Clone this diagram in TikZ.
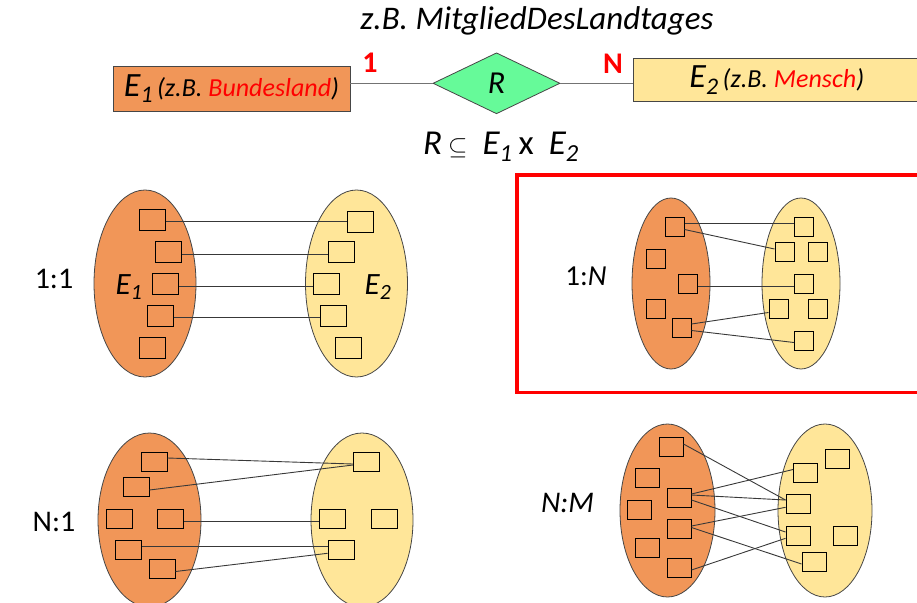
\documentclass[tikz,border=0pt]{standalone}
\usepackage{fontspec}
\setmainfont{Carlito}
\usetikzlibrary{shapes.geometric,calc}
\definecolor{eorange}{RGB}{241,150,88}
\definecolor{eyellow}{RGB}{255,230,153}
\definecolor{rgreen}{RGB}{102,250,153}
\definecolor{edgegray}{RGB}{70,70,70}
\newcommand\fs[1]{\fontsize{#1}{#1}\selectfont}
\begin{document}
\begin{tikzpicture}[x=1pt,y=-1pt,
  ellO/.style={ellipse,draw=edgegray,line width=0.8pt,fill=eorange,inner sep=0pt},
  ellY/.style={ellipse,draw=edgegray,line width=0.8pt,fill=eyellow,inner sep=0pt},
  sq/.style={rectangle,draw=black,line width=1pt,inner sep=0pt},
  sqA/.style={sq,minimum width=26pt,minimum height=21pt},
  sqB/.style={sq,minimum width=19pt,minimum height=19pt},
  sqC/.style={sq,minimum width=26pt,minimum height=19pt},
  sqD/.style={sq,minimum width=24pt,minimum height=19pt},
  lk/.style={draw=black!78,line width=0.9pt},
  conn/.style={draw=black!55,line width=1pt},
  lbl/.style={inner sep=0pt,font=\fs{30}},
  card/.style={inner sep=0pt,text=red,font=\fs{30}\bfseries},
]
\useasboundingbox (0,0) rectangle (917,602);

% ---------- top: ER diagram ----------
\node[anchor=base,inner sep=0pt,font=\fs{33}\itshape] (title) at (537,30) {z.B. MitgliedDesLandtages};
\node[rectangle,draw=edgegray,line width=0.9pt,fill=eorange,minimum width=237pt,minimum height=45pt,inner sep=0pt] (E1box) at (231.5,88.5)
  {\itshape{\fs{34}E\textsubscript{1}}\hspace{4pt}{\fs{26}(z.B. \textcolor{red}{Bundesland})}};
\node[diamond,draw=edgegray,line width=0.8pt,fill=rgreen,minimum width=127pt,minimum height=61pt,inner sep=0pt] (R) at (496.5,83.3) {\fs{32}\itshape R};
\node[rectangle,draw=edgegray,line width=0.9pt,fill=eyellow,minimum width=287pt,minimum height=43.4pt,inner sep=0pt] (E2box) at (776.8,80)
  {\itshape{\fs{34}E\textsubscript{2}}\hspace{4pt}{\fs{26}(z.B. \textcolor{red}{Mensch})}};
\draw[conn] (E1box.east |- R.west) -- (R.west);
\draw[conn] (R.east) -- (R.east -| E2box.west);
\node[card] (one) at (370,63) {1};
\node[card] (many) at (613,64) {N};
\node[anchor=base,inner sep=0pt,font=\fs{35}\itshape] (formula) at (501,154)
  {R\hspace{6pt}$\subseteq$\hspace{15pt}E\textsubscript{1}\hspace{6pt}{\upshape x}\hspace{15pt}E\textsubscript{2}};

% ---------- 1:1 ----------
\node[ellO,minimum width=102pt,minimum height=187pt] (A1) at (145,283.5) {};
\node[ellY,minimum width=102pt,minimum height=187pt] (A2) at (356.5,283.5) {};
\node[lbl] (lab11) at (54,279) {1:1};
\node[inner sep=0pt,font=\fs{31}\itshape] (lE1) at (129,287) {E\textsubscript{1}};
\node[inner sep=0pt,font=\fs{31}\itshape] (lE2) at (378,287) {E\textsubscript{2}};
\node[sqA] (a1) at (152,220) {};
\node[sqA] (a2) at (168,251.5) {};
\node[sqA] (a3) at (165.5,284) {};
\node[sqA] (a4) at (160,316) {};
\node[sqA] (a5) at (152,347.5) {};
\node[sqA] (b1) at (360.5,222) {};
\node[sqA] (b2) at (341,251.5) {};
\node[sqA] (b3) at (326.5,284) {};
\node[sqA] (b4) at (333.5,316) {};
\node[sqA] (b5) at (348.5,347.5) {};
\draw[lk] ($(a1.east)+(0,1.7)$) -- ($(b1.west)+(0,-0.3)$);
\draw[lk] ($(a2.east)+(0,2.6)$) -- ($(b2.west)+(0,2.6)$);
\draw[lk] ($(a3.east)+(0,2)$) -- ($(b3.west)+(0,2)$);
\draw[lk] ($(a4.east)+(0,1.9)$) -- ($(b4.west)+(0,1.9)$);

% ---------- 1:N ----------
\draw[red,line width=3.5pt] (517,175) rectangle (921,392.3);
\node[ellO,minimum width=78pt,minimum height=171pt] (C1) at (671,283.5) {};
\node[ellY,minimum width=78pt,minimum height=171pt] (C2) at (801,283.5) {};
\node[lbl,font=\fs{29}] (lab1n) at (586,276) {1:\textit{N}};
\node[sqB] (c1) at (674.5,226.5) {};
\node[sqB] (c2) at (655.5,258.5) {};
\node[sqB] (c3) at (688,283.5) {};
\node[sqB] (c4) at (655.5,308.5) {};
\node[sqB] (c5) at (681.5,327.5) {};
\node[sqB] (d1) at (804,226.5) {};
\node[sqB] (d2) at (784.5,251.5) {};
\node[sqB] (d3) at (818,251.5) {};
\node[sqB] (d4) at (804,283.5) {};
\node[sqB] (d5) at (778.5,308.5) {};
\node[sqB] (d6) at (818,308.5) {};
\node[sqB] (d7) at (804,340.5) {};
\draw[lk] ($(c1.east)+(0,-3)$) -- ($(d1.west)+(0,-3)$);
\draw[lk] ($(c1.east)+(0,3)$) -- ($(d2.west)+(0,-2.5)$);
\draw[lk] ($(c3.east)+(0,3)$) -- ($(d4.west)+(0,3)$);
\draw[lk] ($(c5.east)+(0,-3.5)$) -- ($(d5.west)+(0,4)$);
\draw[lk] ($(c5.east)+(0,3)$) -- ($(d7.west)+(0,2)$);

% ---------- N:1 ----------
\node[ellO,minimum width=103pt,minimum height=174pt] (F1) at (149.5,520) {};
\node[ellY,minimum width=102pt,minimum height=174pt] (F2) at (362,520) {};
\node[lbl] (labn1) at (54,522) {N:1};
\node[sqC] (e1) at (154,462) {};
\node[sqC] (e2) at (136,487) {};
\node[sqC] (e3) at (119.5,518.5) {};
\node[sqC] (e4) at (170.5,518.5) {};
\node[sqC] (e5) at (128.5,550) {};
\node[sqC] (e6) at (162,568.5) {};
\node[sqC] (f1) at (366.5,462) {};
\node[sqC] (f2) at (332,518.5) {};
\node[sqC] (f3) at (384.5,518.5) {};
\node[sqC] (f4) at (341,550) {};
\draw[lk] ($(e1.east)+(0,-4)$) -- ($(f1.west)+(0,2)$);
\draw[lk] ($(e2.east)+(0,3)$) -- ($(f1.west)+(0,3)$);
\draw[lk] ($(e4.east)+(0,2.5)$) -- ($(f2.west)+(0,2.5)$);
\draw[lk] ($(e5.east)+(0,-3.3)$) -- ($(f4.west)+(0,-3.3)$);
\draw[lk] ($(e6.east)+(0,3)$) -- ($(f4.west)+(0,3.3)$);

% ---------- N:M ----------
\node[ellO,minimum width=95pt,minimum height=173pt] (G1) at (667.5,510.5) {};
\node[ellY,minimum width=94pt,minimum height=173pt] (G2) at (825,510.5) {};
\node[lbl,font=\fs{30}\itshape] (labnm) at (567.5,502.5) {N:M};
\node[sqD] (g1) at (671,446.5) {};
\node[sqD] (g2) at (647,478) {};
\node[sqD] (g3) at (679,497.5) {};
\node[sqD] (g4) at (639.5,509.5) {};
\node[sqD] (g5) at (679,528.5) {};
\node[sqD] (g6) at (647,548) {};
\node[sqD] (g7) at (679,567.5) {};
\node[sqD] (h1) at (837.5,458.5) {};
\node[sqD] (h2) at (805.5,472.5) {};
\node[sqD] (h3) at (798,504) {};
\node[sqD] (h4) at (798,536) {};
\node[sqD] (h5) at (845,536) {};
\node[sqD] (h6) at (814,561.5) {};
\draw[lk] ($(g1.east)+(0,-2.5)$) -- ($(h3.west)+(0,-4)$);
\draw[lk] ($(g3.east)+(0,-3.5)$) -- ($(h2.west)+(0,-3)$);
\draw[lk] ($(g3.east)+(0,-2.5)$) -- ($(h3.west)+(0,-4)$);
\draw[lk] ($(g3.east)+(0,2.5)$) -- ($(h4.west)+(0,-4)$);
\draw[lk] ($(g5.east)+(0,-2.5)$) -- ($(h3.west)+(0,3.3)$);
\draw[lk] ($(g5.east)+(0,-1)$) -- ($(h6.west)+(0,2.5)$);
\draw[lk] ($(g7.east)+(0,2.5)$) -- ($(h4.west)+(0,2.3)$);
\end{tikzpicture}
\end{document}
